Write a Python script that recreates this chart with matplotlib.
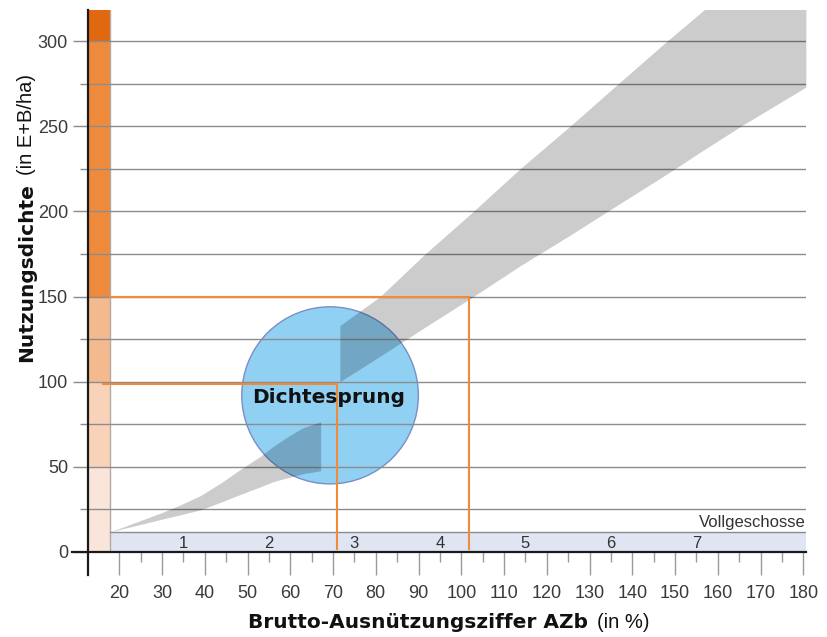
import matplotlib
matplotlib.use("Agg")
import matplotlib.pyplot as plt
from matplotlib.patches import Ellipse

plt.rcParams['font.family'] = ['Liberation Sans', 'DejaVu Sans']

# ---------------- data ----------------
# density band (E+B/ha) vs AZb (%), lower piece (below the jump)
band1_x     = [18, 25, 30, 34.2, 38.9, 44, 48.3, 52.9, 56, 59.9, 63, 67.1]
band1_upper = [12, 18.5, 23.2, 27.6, 33.0, 41.0, 48.5, 56.0, 62.0, 68.5, 73.0, 76.5]
band1_lower = [12, 16.2, 19.3, 21.8, 24.7, 29.5, 33.8, 38.2, 41.3, 44.0, 46.0, 47.7]
# upper piece (after the jump)
band2_x     = [71.6, 81, 91.5, 102.8, 113.7, 125.4, 136.7, 148.1, 156.6, 166, 180.6]
band2_upper = [133, 150, 175, 200, 225, 250, 275, 300, 318, 338, 370]
band2_lower = [100, 115, 132, 150, 168, 186, 204, 222, 236, 251, 273]

# orange density scale on the left
scale_bounds = [0, 50, 100, 150, 300, 320]
scale_colors = ['#f9e5d9', '#f9d3b9', '#f3b98f', '#ee8a3c', '#e0680f']

# reference lines (AZb, density)
ref_azb     = [71.0, 101.8]
ref_density = [98.5, 149.5]
ref_start   = [16.1, 17.8]

# storeys
storey_labels = ['1', '2', '3', '4', '5', '6', '7']
storey_x      = [35, 55, 75, 95, 115, 135, 155]
storey_top    = 11.7

x_major = list(range(20, 181, 10))
x_minor = list(range(25, 176, 10))
y_major = list(range(0, 301, 50))
y_minor = list(range(25, 276, 50))

XMIN, XMAX = 12.68, 180.6
YMIN, YMAX = 0, 318.3
SCALE_RIGHT = 17.8

# ---------------- figure ----------------
W, H = 827, 637
fig = plt.figure(figsize=(W / 100, H / 100), dpi=100)
ax = fig.add_axes([88 / W, (H - 552) / H, (805.9 - 88) / W, (552 - 10) / H])
ax.set_xlim(XMIN, XMAX)
ax.set_ylim(YMIN, YMAX)
ax.set_axisbelow(False)
for s in ax.spines.values():
    s.set_visible(False)

# orange scale bar
for i, c in enumerate(scale_colors):
    ax.bar(XMIN, scale_bounds[i + 1] - scale_bounds[i], bottom=scale_bounds[i],
           width=SCALE_RIGHT - XMIN, align='edge', color=c, linewidth=0, zorder=1)
ax.plot([SCALE_RIGHT, SCALE_RIGHT], [0, YMAX], color='#b5aaa3', lw=1.0, zorder=1.2)

# storeys band
ax.fill_between([SCALE_RIGHT, XMAX], 0, storey_top, color='#dfe5f3', lw=0, zorder=1)
ax.plot([SCALE_RIGHT, XMAX], [storey_top, storey_top], color='#8c8c8c', lw=1.0, zorder=2)
for x, s in zip(storey_x, storey_labels):
    ax.text(x, 2.6, s, ha='center', va='baseline', fontsize=12, color='#333333', zorder=5)
ax.text(XMAX, 14.9, 'Vollgeschosse', ha='right', va='baseline', fontsize=12,
        color='#333333', zorder=5)

# circle "Dichtesprung"
circ = Ellipse((69.3, 92.0), width=41.3, height=104.0, facecolor='#8fd0f3',
               edgecolor='#7b8ec6', lw=1.0, zorder=1.5)
ax.add_patch(circ)

# grid / ticks
ax.set_xticks(x_major)
ax.set_xticks(x_minor, minor=True)
ax.set_yticks(y_major)
ax.set_yticks(y_minor, minor=True)
ax.grid(axis='y', which='both', color='#8c8c8c', lw=1.0)
ax.tick_params(axis='y', which='major', direction='out', length=10.8, width=1.0,
               color='#8c8c8c', pad=3.6, labelsize=13, labelcolor='#3a3a3a')
ax.tick_params(axis='y', which='minor', direction='out', length=5.8, width=1.0,
               color='#8c8c8c')
ax.tick_params(axis='x', which='major', direction='out', length=16.6, width=1.0,
               color='#9a9a9a', pad=6.8, labelsize=13, labelcolor='#3a3a3a')
ax.tick_params(axis='x', which='minor', direction='out', length=7.2, width=1.0,
               color='#9a9a9a')

# grey density band (multiplicative look)
ax.fill_between(band1_x, band1_lower, band1_upper, color='black', alpha=0.2, lw=0, zorder=3)
ax.fill_between(band2_x, band2_lower, band2_upper, color='black', alpha=0.2, lw=0, zorder=3)

# orange reference lines
for xa, yd, x0 in zip(ref_azb, ref_density, ref_start):
    ax.plot([x0, xa, xa], [yd, yd, 2.0], color='#f28b35', lw=1.5, zorder=4,
            solid_joinstyle='miter')

ax.text(69.0, 87.3, 'Dichtesprung', ha='center', va='baseline', fontsize=14.5,
        fontweight='bold', family='DejaVu Sans', color='#111111', zorder=7)

# axis lines
ax.plot([0, 0], [-(575 - 552) / 542, 1], transform=ax.transAxes, color='#1a1a1a',
        lw=1.6, clip_on=False, zorder=8)
ax.plot([-(88 - 72) / 717.9, 1], [0, 0], transform=ax.transAxes, color='#1a1a1a',
        lw=1.6, clip_on=False, zorder=8)

# axis labels
xb = fig.text(248 / W, 9 / H, 'Brutto-Ausnützungsziffer AZb', fontsize=14.5,
              fontweight='bold', family='DejaVu Sans', ha='left', va='baseline',
              color='#111111')
yb = fig.text(32.5 / W, (H - 362) / H, 'Nutzungsdichte', fontsize=14.5,
              fontweight='bold', family='DejaVu Sans', ha='left', va='baseline',
              rotation=90, rotation_mode='anchor', color='#111111')
fig.canvas.draw()
r = fig.canvas.get_renderer()
bx = xb.get_window_extent(r)
fig.text((bx.x1 + 9) / W, 9 / H, '(in %)', fontsize=14.5, ha='left', va='baseline',
         color='#111111')
by = yb.get_window_extent(r)
fig.text(32.5 / W, (by.y1 + 8) / H, '(in E+B/ha)', fontsize=14.5, ha='left',
         va='baseline', rotation=90, rotation_mode='anchor', color='#111111')

fig.savefig('out.png', dpi=100)
